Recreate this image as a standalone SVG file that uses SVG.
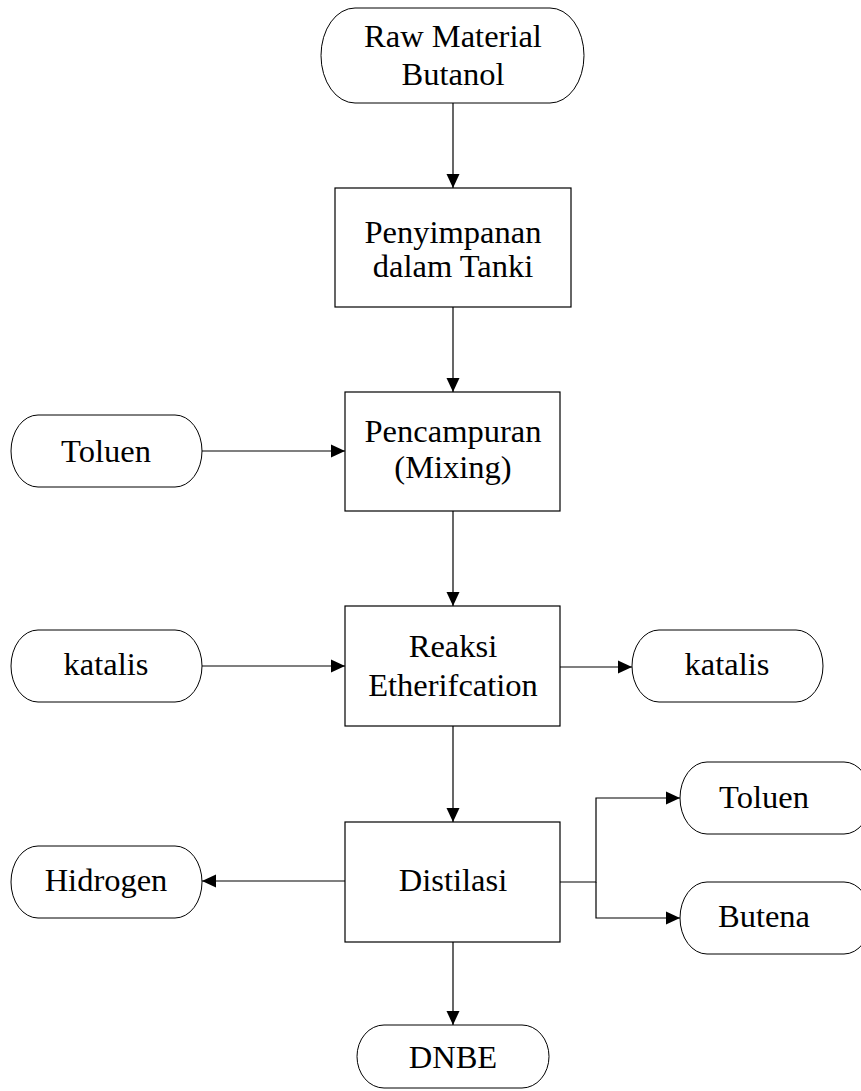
<svg xmlns="http://www.w3.org/2000/svg" width="861" height="1091" viewBox="0 0 861 1091">
<defs>
<marker id="ah" viewBox="0 0 14 14" refX="14" refY="7" markerWidth="14" markerHeight="14" markerUnits="userSpaceOnUse" orient="auto">
<path d="M0,0.5 L14,7 L0,13.5 Z" fill="#000"/>
</marker>
<style>
.box{fill:#fff;stroke:#000;stroke-width:1.2}
.term{fill:#fff;stroke:#000;stroke-width:1}
.t{font-family:"Liberation Serif","Times New Roman",serif;font-size:32.5px;fill:#000;text-anchor:middle}
.c{fill:none;stroke:#000;stroke-width:1.2}
</style>
</defs>
<rect width="861" height="1091" fill="#fff"/>
<g id="connectors">
<line class="c" x1="453" y1="103" x2="453" y2="188" marker-end="url(#ah)"/>
<line class="c" x1="453" y1="307" x2="453" y2="392" marker-end="url(#ah)"/>
<line class="c" x1="202" y1="451" x2="345" y2="451" marker-end="url(#ah)"/>
<line class="c" x1="453" y1="511" x2="453" y2="606" marker-end="url(#ah)"/>
<line class="c" x1="202" y1="666" x2="345" y2="666" marker-end="url(#ah)"/>
<line class="c" x1="560" y1="667" x2="632" y2="667" marker-end="url(#ah)"/>
<line class="c" x1="453" y1="726" x2="453" y2="822" marker-end="url(#ah)"/>
<line class="c" x1="345" y1="881" x2="202" y2="881" marker-end="url(#ah)"/>
<polyline class="c" points="560,882 596,882 596,798 680,798" marker-end="url(#ah)"/>
<polyline class="c" points="596,882 596,918 680,918" marker-end="url(#ah)"/>
<line class="c" x1="453" y1="942" x2="453" y2="1025" marker-end="url(#ah)"/>
</g>
<g id="raw">
<rect class="term" x="321" y="8" width="263" height="95" rx="34" ry="47.5"/>
<text class="t" x="453" y="47">Raw Material</text>
<text class="t" x="453" y="85">Butanol</text>
</g>
<g id="penyimpanan">
<rect class="box" x="335" y="188" width="236" height="119"/>
<text class="t" x="453" y="243">Penyimpanan</text>
<text class="t" x="453" y="277">dalam Tanki</text>
</g>
<g id="toluen-in">
<rect class="term" x="11" y="415" width="191" height="72" rx="27" ry="36"/>
<text class="t" x="106" y="462">Toluen</text>
</g>
<g id="pencampuran">
<rect class="box" x="345" y="392" width="215" height="119"/>
<text class="t" x="453" y="442">Pencampuran</text>
<text class="t" x="453" y="478">(Mixing)</text>
</g>
<g id="katalis-in">
<rect class="term" x="11" y="630" width="191" height="72" rx="27" ry="36"/>
<text class="t" x="106" y="675">katalis</text>
</g>
<g id="reaksi">
<rect class="box" x="345" y="606" width="215" height="120"/>
<text class="t" x="453" y="657">Reaksi</text>
<text class="t" x="453" y="696">Etherifcation</text>
</g>
<g id="katalis-out">
<rect class="term" x="632" y="630" width="191" height="72" rx="27" ry="36"/>
<text class="t" x="727" y="675">katalis</text>
</g>
<g id="distilasi">
<rect class="box" x="345" y="822" width="215" height="120"/>
<text class="t" x="453" y="891">Distilasi</text>
</g>
<g id="hidrogen">
<rect class="term" x="11" y="846" width="191" height="72" rx="27" ry="36"/>
<text class="t" x="106" y="891">Hidrogen</text>
</g>
<g id="toluen-out">
<rect class="term" x="680" y="762" width="191" height="72" rx="27" ry="36"/>
<text class="t" x="764" y="808">Toluen</text>
</g>
<g id="butena">
<rect class="term" x="680" y="882" width="191" height="72" rx="27" ry="36"/>
<text class="t" x="764" y="927">Butena</text>
</g>
<g id="dnbe">
<rect class="term" x="357" y="1025" width="192" height="63" rx="27" ry="31.5"/>
<text class="t" x="453" y="1068">DNBE</text>
</g>
</svg>
